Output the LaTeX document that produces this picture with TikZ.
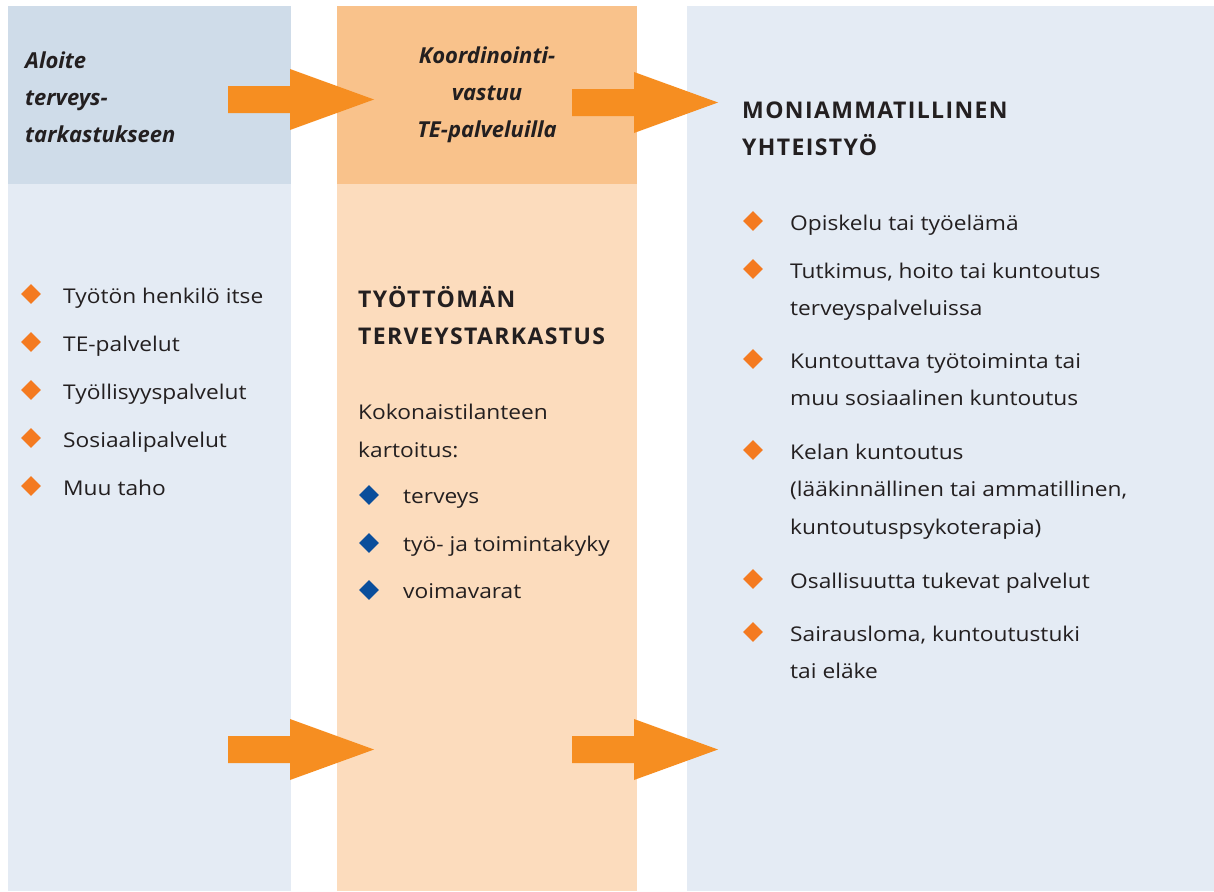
\documentclass[tikz,border=0pt]{standalone}
\usepackage{fontspec}
\setmainfont{Open Sans}
\newfontfamily\bodyfont[FakeStretch=1.12]{Open Sans}
\newfontfamily\headfont[LetterSpace=6]{Open Sans}
\usetikzlibrary{shapes.geometric}
\definecolor{hdblue}{HTML}{CFDCE9}
\definecolor{paleblue}{HTML}{E4EBF4}
\definecolor{hdorange}{HTML}{F9C28B}
\definecolor{paleorange}{HTML}{FCDCBD}
\definecolor{arroworange}{HTML}{F68E21}
\definecolor{dotorange}{HTML}{F47A20}
\definecolor{dotblue}{HTML}{0A4E9B}
\definecolor{textc}{HTML}{231F20}
\tikzset{
  panel/.style={rectangle, inner sep=0pt, anchor=north west},
  item/.style={anchor=base west, inner sep=0pt, align=left, text=textc,
    font=\fontsize{20.3}{37.5}\selectfont\bodyfont},
  headline/.style={item, font=\fontsize{23}{37}\selectfont\headfont\bfseries},
  ihead/.style={item, font=\fontsize{22}{37}\selectfont\bfseries\itshape},
  bullet/.style={diamond, fill=dotorange, inner sep=0pt, minimum width=20pt, minimum height=20pt},
  pics/flowarrow/.style={code={
    \fill[arroworange] (0,-13.5) -- (62,-13.5) -- (62,-30.5) -- (146,0)
      -- (62,30.5) -- (62,13.5) -- (0,13.5) -- cycle;}}
}

\begin{document}
\begin{tikzpicture}[x=1pt, y=-1pt]
  \useasboundingbox (0,0) rectangle (1214,891);
  % columns
  \node[panel, fill=paleblue, minimum width=283pt, minimum height=885pt] (left) at (8,6) {};
  \node[panel, fill=hdblue, minimum width=283pt, minimum height=178pt] (lefthead) at (8,6) {};
  \node[panel, fill=paleorange, minimum width=300pt, minimum height=885pt] (mid) at (337,6) {};
  \node[panel, fill=hdorange, minimum width=300pt, minimum height=178pt] (midhead) at (337,6) {};
  \node[panel, fill=paleblue, minimum width=527pt, minimum height=885pt] (right) at (687,6) {};

  % arrows
  \pic at (228,99.5) {flowarrow};
  \pic at (572,102.5) {flowarrow};
  \pic at (228,749.5) {flowarrow};
  \pic at (572,749.5) {flowarrow};

  % headers (base = last line)
  \node[ihead] (aloite) at (25,142) {Aloite\\terveys-\\tarkastukseen};
  \node[ihead, align=center, anchor=base] (koord) at (487,137) {Koordinointi-\\vastuu\\TE-palveluilla};

  % left list
  \foreach \yb/\txt [count=\i] in {303/Työtön henkilö itse, 351/TE-palvelut,
      399/Työllisyyspalvelut, 447/Sosiaalipalvelut, 495/Muu taho} {
    \node[bullet] (lb\i) at (31,\yb-9) {};
    \node[item] (lt\i) at (63,\yb) {\txt};
  }

  % middle
  \node[headline] (tth) at (358,344) {TYÖTTÖMÄN\\TERVEYSTARKASTUS};
  \node[item] (kok) at (358,457) {Kokonaistilanteen\\kartoitus:};
  \foreach \yb/\txt [count=\i] in {503/terveys, 551/työ- ja toimintakyky, 598/voimavarat} {
    \node[bullet, fill=dotblue] (mb\i) at (369,\yb-8) {};
    \node[item] (mt\i) at (403,\yb) {\txt};
  }

  % right
  \node[headline] (moni) at (742,155) {MONIAMMATILLINEN\\YHTEISTYÖ};
  \foreach \yb/\nl/\txt [count=\i] in {230/0/Opiskelu tai työelämä,
      278/1/{Tutkimus, hoito tai kuntoutus\\terveyspalveluissa},
      368/1/{Kuntouttava työtoiminta tai\\muu sosiaalinen kuntoutus},
      459/2/{Kelan kuntoutus\\(lääkinnällinen tai ammatillinen,\\kuntoutuspsykoterapia)},
      588/0/Osallisuutta tukevat palvelut,
      641/1/{Sairausloma, kuntoutustuki\\tai eläke}} {
    \node[bullet] (rb\i) at (753,\yb-9) {};
    \node[item] (rt\i) at (790,\yb+\nl*37.5) {\txt};
  }
\end{tikzpicture}
\end{document}
